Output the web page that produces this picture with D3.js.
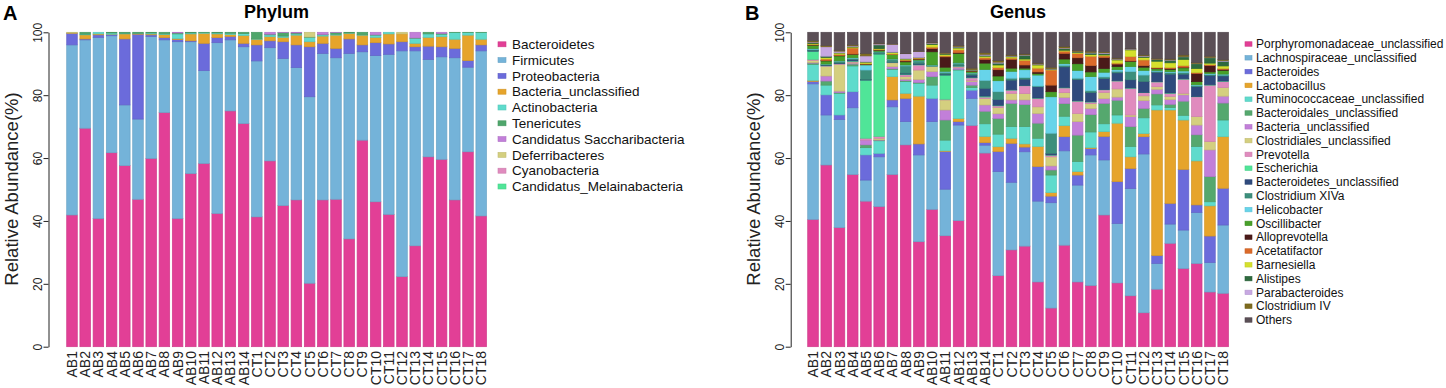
<!DOCTYPE html>
<html>
<head>
<meta charset="utf-8">
<script src="https://cdn.jsdelivr.net/npm/d3@7"></script>
<style>
  body { margin: 0; background: #fff; }
  svg { display: block; font-family: "Liberation Sans", Arial, sans-serif; }
</style>
</head>
<body>
<div id="graf"></div>
<script>
// Stacked relative abundance bars, phylum (A) and genus (B)

samples = ['AB1','AB2','AB3','AB4','AB5','AB6','AB7','AB8','AB9','AB10','AB11','AB12','AB13','AB14',
           'CT1','CT2','CT3','CT4','CT5','CT6','CT7','CT8','CT9','CT10','CT11','CT12','CT13','CT14',
           'CT15','CT16','CT17','CT18']
yTicks = [0, 20, 40, 60, 80, 100]

phyla = ['Bacteroidetes','Firmicutes','Proteobacteria','Bacteria_unclassified','Actinobacteria',
         'Tenericutes','Candidatus Saccharibacteria','Deferribacteres','Cyanobacteria',
         'Candidatus_Melainabacteria']
phylaColors = ['#e23f96','#74b3d9','#6b6bdb','#e6a42b','#5fdbcc','#4fa66b','#c27fd9','#d4cf7f',
               '#e08bbe','#50e598']

// one row per sample, values in the order of `phyla` (%)
phylumRows = [
  [41.9, 54.1, 3.7, 0.1, 0.0, 0.0, 0.0, 0.2, 0, 0],
  [69.5, 28.1, 0.3, 1.3, 0.2, 0.6, 0, 0, 0, 0],
  [40.8, 57.6, 0.8, 0.3, 0.5, 0, 0, 0, 0, 0],
  [61.7, 37.2, 0.4, 0.1, 0.4, 0.2, 0, 0, 0, 0],
  [57.6, 19.3, 21.0, 1.6, 0.2, 0.3, 0, 0, 0, 0],
  [46.9, 25.5, 27.0, 0.2, 0.1, 0.3, 0, 0, 0, 0],
  [59.9, 38.8, 0.5, 0.3, 0.3, 0.2, 0, 0, 0, 0],
  [74.5, 23.1, 0.7, 1.0, 0.2, 0.5, 0, 0, 0, 0],
  [40.8, 56.2, 0.7, 0.3, 1.5, 0.3, 0.2, 0, 0, 0],
  [55.1, 41.9, 0.3, 2.2, 0.3, 0.2, 0, 0, 0, 0],
  [58.3, 29.5, 8.7, 3.2, 0.2, 0.1, 0, 0, 0, 0],
  [42.4, 54.3, 1.6, 1.2, 0.3, 0.2, 0, 0, 0, 0],
  [75.0, 22.6, 1.1, 0.6, 0.4, 0.3, 0, 0, 0, 0],
  [71.0, 24.4, 1.1, 2.5, 0.6, 0.4, 0, 0, 0, 0],
  [41.3, 49.6, 5.1, 1.8, 0.1, 2.1, 0, 0, 0, 0],
  [59.1, 36.0, 2.2, 1.3, 0.6, 0.2, 0.6, 0, 0, 0],
  [44.9, 46.8, 5.3, 1.4, 0.4, 1.1, 0.1, 0, 0, 0],
  [46.7, 42.1, 7.2, 3.1, 0.4, 0.3, 0.2, 0, 0, 0],
  [20.2, 59.3, 15.9, 1.6, 1.4, 0.1, 0, 1.5, 0, 0],
  [46.7, 46.6, 3.2, 2.3, 0.4, 0.1, 0.7, 0, 0, 0],
  [46.9, 45.0, 3.0, 4.2, 0.3, 0.5, 0.1, 0, 0, 0],
  [34.3, 59.0, 4.6, 1.8, 0.1, 0.2, 0, 0, 0, 0],
  [65.7, 28.1, 2.2, 3.1, 0.1, 0.8, 0, 0, 0, 0],
  [46.1, 46.5, 4.1, 1.7, 0.7, 0.1, 0.8, 0, 0, 0],
  [42.1, 50.9, 3.3, 3.2, 0.5, 0, 0, 0, 0, 0],
  [22.3, 71.8, 2.9, 2.5, 0, 0, 0, 0.5, 0, 0],
  [32.1, 62.0, 1.3, 1.1, 1.6, 0.1, 1.8, 0, 0, 0],
  [60.4, 31.0, 4.2, 2.8, 1.1, 0.5, 0, 0, 0, 0],
  [59.6, 32.6, 3.2, 3.2, 0.8, 0.2, 0.4, 0, 0, 0],
  [46.7, 45.2, 3.0, 2.9, 2.1, 0.1, 0, 0, 0, 0],
  [62.0, 26.9, 2.1, 8.1, 0.8, 0.1, 0, 0, 0, 0],
  [41.6, 52.5, 1.9, 1.8, 2.1, 0.1, 0, 0, 0, 0]
]

genera = ['Porphyromonadaceae_unclassified','Lachnospiraceae_unclassified','Bacteroides','Lactobacillus',
          'Ruminococcaceae_unclassified','Bacteroidales_unclassified','Bacteria_unclassified',
          'Clostridiales_unclassified','Prevotella','Escherichia','Bacteroidetes_unclassified',
          'Clostridium XIVa','Helicobacter','Oscillibacter','Alloprevotella','Acetatifactor',
          'Barnesiella','Alistipes','Parabacteroides','Clostridium IV','Others']
generaColors = ['#e23f96','#74b3d9','#6b6bdb','#e6a42b','#5fdbcc','#55a86e','#c27fd9','#d4cf7f',
                '#e08bbe','#50e598','#2f4a7d','#3c8f7c','#67d4ea','#48a02a','#4a1a19','#db6a2a',
                '#d5e02c','#2e6a3e','#c7a8e2','#7d6a1e','#5b4f56']

// one row per sample, values in the order of `genera` (%)
genusRows = [
  [40.5, 43.1, 0.8, 0.3, 5.1, 0.4, 0.2, 0.7, 0.3, 2.6, 0.3, 0.3, 0.2, 1.1, 0.1, 0.2, 0.2, 0.3, 0.2, 0.4, 2.7],
  [57.8, 15.9, 6.4, 0, 3.1, 1.3, 1.6, 3.0, 0.2, 0.1, 0.2, 0.2, 0.1, 1.0, 0.1, 0.5, 0.5, 0.4, 3.0, 0.4, 4.2],
  [37.9, 34.4, 1.4, 0, 6.9, 0.2, 0.5, 8.5, 0.2, 0.1, 0.2, 0.5, 0.1, 1.6, 0.1, 0.4, 0.4, 0.1, 0.5, 0.3, 5.6],
  [54.8, 21.2, 5.1, 0, 8.2, 0.6, 0.3, 0.3, 0.2, 0.2, 0.4, 0.4, 0.2, 1.1, 0.1, 1.9, 0.3, 0.2, 0.2, 0.3, 4.0],
  [46.3, 6.7, 8.0, 0, 2.3, 0.9, 1.5, 0, 0.6, 18.5, 0.2, 3.0, 1.6, 0.2, 0.1, 0.1, 0.5, 0.1, 1.9, 0.8, 6.7],
  [44.6, 15.8, 1.1, 0, 4.0, 0.2, 0.1, 0.5, 0.6, 26.2, 0.1, 0.6, 0.1, 0.4, 0.1, 0.2, 0.2, 1.2, 0.3, 0.2, 3.5],
  [54.8, 21.5, 2.2, 7.4, 2.3, 0.2, 0.7, 1.2, 0.1, 0.1, 0.1, 0.8, 0.1, 1.4, 0.1, 0.1, 0.5, 0.1, 2.5, 0.1, 3.7],
  [64.2, 7.4, 7.4, 1.6, 3.7, 0.3, 0.5, 0.8, 0.6, 0.2, 0.3, 2.3, 0.3, 1.0, 0.3, 0.3, 0.3, 0.1, 1.6, 0.1, 6.7],
  [33.4, 27.6, 3.5, 15.2, 4.1, 0.2, 1.0, 3.0, 1.6, 0.2, 0.3, 0.8, 0.2, 0.3, 0.1, 0.3, 0.1, 0.1, 1.9, 0.1, 6.0],
  [43.7, 27.9, 7.4, 0, 4.2, 2.7, 1.6, 1.6, 0.1, 0.1, 0.1, 0.1, 0.1, 4.2, 1.0, 0.5, 0.8, 0.3, 0.2, 0.2, 3.2],
  [35.3, 14.8, 12.0, 0.2, 3.4, 6.4, 3.2, 3.2, 0.2, 7.7, 0.3, 0.6, 0.3, 1.3, 3.3, 0.3, 0.5, 0.2, 0.1, 0.2, 6.5],
  [40.1, 30.4, 1.1, 1.0, 15.4, 0.2, 0.5, 0.2, 0.3, 0.1, 0.1, 0.8, 0.1, 3.0, 0.2, 0.9, 0.6, 0.3, 0.2, 0.3, 4.2],
  [70.4, 8.6, 2.6, 0, 0.8, 0.8, 1.2, 0.3, 0.8, 0.2, 0.7, 0.6, 0.1, 0.5, 0.1, 0.1, 0.1, 0.1, 0.1, 0.5, 11.4],
  [61.6, 2.5, 0.8, 2.0, 4.0, 4.0, 2.0, 2.0, 0.5, 0.3, 2.5, 2.5, 3.5, 2.0, 1.2, 0.5, 0.5, 0.3, 0.3, 0.5, 6.5],
  [22.6, 33.1, 6.4, 1.5, 4.0, 5.0, 1.5, 2.0, 0.5, 0.2, 1.8, 2.5, 3.5, 1.5, 2.0, 0.7, 0.8, 0.6, 0.3, 0.5, 9.0],
  [30.8, 21.5, 12.4, 1.6, 3.7, 7.4, 1.1, 2.1, 1.0, 0.1, 3.1, 0.6, 2.2, 1.0, 2.8, 0.4, 0.4, 0.2, 0.1, 0.3, 7.2],
  [32.0, 30.0, 1.5, 1.0, 5.5, 7.0, 1.5, 2.0, 2.5, 0.1, 2.0, 0.5, 2.5, 0.5, 1.0, 1.5, 0.4, 1.2, 0.1, 0.3, 6.9],
  [20.6, 25.7, 11.0, 6.4, 2.6, 4.8, 3.1, 2.1, 2.7, 0.1, 3.6, 0.2, 3.5, 0.5, 0.5, 1.2, 1.0, 0.2, 0.1, 0.3, 9.8],
  [12.3, 33.5, 2.1, 1.1, 5.6, 1.6, 1.3, 2.9, 0.5, 0.1, 0.5, 6.4, 11.6, 1.6, 2.1, 4.8, 0.2, 0.1, 0.1, 0.5, 11.1],
  [32.3, 30.0, 4.5, 3.5, 3.0, 4.0, 2.0, 1.5, 1.5, 0.2, 6.5, 0.5, 0.5, 1.5, 1.8, 0.7, 0.3, 0.5, 0.2, 0.5, 4.5],
  [20.6, 30.8, 3.2, 1.1, 3.2, 8.4, 4.3, 2.6, 3.9, 0.1, 6.8, 0.4, 2.5, 2.1, 1.9, 1.4, 0.3, 0.2, 0.1, 0.3, 5.8],
  [19.5, 41.5, 2.0, 0.3, 5.0, 5.5, 2.0, 1.5, 0.5, 0.1, 3.0, 0.5, 4.5, 1.5, 2.0, 3.0, 0.5, 0.5, 0.2, 0.4, 6.0],
  [41.9, 17.5, 7.5, 1.5, 2.5, 6.5, 1.5, 2.0, 0.8, 0.1, 3.5, 0.5, 1.5, 1.2, 3.5, 0.5, 0.3, 0.5, 0.2, 0.3, 6.2],
  [20.3, 18.9, 13.3, 18.6, 2.6, 4.7, 1.0, 2.6, 2.5, 0.1, 2.5, 0.5, 0.5, 1.0, 0.8, 0.3, 1.0, 0.2, 0.1, 0.3, 8.2],
  [16.2, 34.1, 6.4, 3.7, 3.3, 6.3, 3.2, 0.5, 8.5, 0.1, 2.6, 2.6, 1.6, 1.6, 0.2, 1.4, 2.1, 0.2, 0.1, 0.1, 5.2],
  [10.8, 50.5, 5.5, 1.0, 5.0, 3.0, 2.5, 1.5, 1.0, 0.1, 3.5, 2.0, 1.5, 1.0, 0.5, 1.8, 0.8, 0.3, 0.2, 0.3, 7.2],
  [18.3, 8.2, 2.5, 46.3, 1.6, 3.5, 1.5, 0.8, 1.5, 0.1, 3.0, 0.3, 0.3, 0.5, 0.2, 0.2, 2.0, 0.5, 0.1, 0.3, 8.3],
  [32.9, 6.1, 6.6, 29.7, 0.8, 1.0, 1.5, 1.0, 1.0, 0.1, 6.0, 0.5, 0.3, 0.7, 0.3, 0.3, 1.5, 0.8, 0.1, 0.3, 8.5],
  [24.9, 12.2, 19.3, 15.7, 1.5, 4.5, 2.0, 0.5, 4.5, 0.1, 1.5, 0.5, 0.5, 1.0, 0.2, 0.5, 2.0, 0.8, 0.1, 0.5, 7.2],
  [26.5, 16.2, 2.4, 14.0, 4.6, 3.7, 3.1, 2.7, 6.3, 0.1, 3.1, 0.3, 0.3, 1.0, 2.6, 0.3, 1.3, 1.5, 0.1, 0.3, 9.6],
  [17.4, 9.4, 8.4, 9.6, 1.3, 8.0, 8.5, 2.7, 17.9, 0.1, 3.0, 0.3, 0.3, 0.5, 2.0, 0.3, 0.5, 1.7, 0.1, 0.4, 7.6],
  [17.0, 21.7, 11.7, 16.4, 5.3, 5.4, 2.2, 2.7, 2.0, 0.1, 1.6, 0.3, 0.3, 1.2, 0.3, 0.3, 0.8, 1.5, 0.2, 0.3, 8.7]
]

ancho_total = 1446
alto_total = 388

svg = d3.select('#graf').append('svg')
        .attr('width', ancho_total)
        .attr('height', alto_total)

// y scale shared by both panels
y = d3.scaleLinear().domain([0, 100]).range([346.7, 32.3])

function panel(p) {
  x = d3.scaleBand()
        .domain(samples)
        .range([p.x0, p.x1])
        .paddingInner(0.2)
        .paddingOuter(0.1)

  rows = samples.map((s, i) => {
    o = { sample: s }
    p.rows[i].forEach((v, j) => o[j] = v)
    return o
  })
  series = d3.stack().keys(d3.range(p.names.length))(rows)

  g = svg.append('g')

  g.selectAll('g.capa')
    .data(series)
    .join('g')
    .attr('class', 'capa')
    .attr('fill', d => p.colors[d.key])
    .attr('stroke', d => d3.color(p.colors[d.key]).darker(0.25))
    .attr('stroke-width', 0.7)
    .selectAll('rect')
    .data(d => d.filter(s => s[1] - s[0] > 0))
    .join('rect')
    .attr('x', d => x(d.data.sample))
    .attr('width', x.bandwidth())
    .attr('y', d => y(d[1]))
    .attr('height', d => y(d[0]) - y(d[1]))

  // y axis, R style (labels parallel to the axis)
  yAxis = g.append('g')
           .attr('transform', `translate(${p.axisX}, 0)`)
           .call(d3.axisLeft(y).tickValues(yTicks).tickSize(5).tickSizeOuter(0))
  yAxis.select('.domain').attr('stroke', '#222')
  yAxis.selectAll('.tick line').attr('stroke', '#222')
  yAxis.selectAll('.tick text')
       .attr('x', null).attr('dy', null)
       .attr('transform', 'translate(-7, 0) rotate(-90)')
       .attr('text-anchor', 'middle')
       .attr('font-size', 12)
       .attr('font-family', '"Liberation Sans", Arial, sans-serif')
       .attr('fill', '#222')

  g.append('text')
    .attr('transform', `translate(${p.axisX - 31}, 189) rotate(-90)`)
    .attr('text-anchor', 'middle')
    .attr('font-size', 18.5)
    .attr('fill', '#222')
    .text('Relative Abundance(%)')

  // sample labels under the bars
  g.selectAll('text.muestra')
    .data(samples)
    .join('text')
    .attr('class', 'muestra')
    .attr('transform', d => `translate(${x(d) + x.bandwidth() / 2}, 351) rotate(-90)`)
    .attr('dy', '0.36em')
    .attr('text-anchor', 'end')
    .attr('font-size', 14)
    .attr('fill', '#222')
    .text(d => d)

  // title and panel letter
  g.append('text')
    .attr('x', (p.x0 + p.x1) / 2)
    .attr('y', 18)
    .attr('text-anchor', 'middle')
    .attr('font-size', 18)
    .attr('font-weight', 'bold')
    .text(p.title)
  g.append('text')
    .attr('x', p.letterX)
    .attr('y', 20)
    .attr('font-size', 20)
    .attr('font-weight', 'bold')
    .text(p.letter)

  // legend
  ley = g.selectAll('g.ley')
         .data(p.names)
         .join('g')
         .attr('class', 'ley')
         .attr('transform', (d, i) => `translate(${p.legX}, ${p.legY + i * p.legStep})`)
  ley.append('rect')
     .attr('x', 0).attr('y', -p.sw[1] / 2)
     .attr('width', p.sw[0]).attr('height', p.sw[1])
     .attr('fill', (d, i) => p.colors[i])
     .attr('stroke', (d, i) => d3.color(p.colors[i]).darker(0.25))
     .attr('stroke-width', 0.6)
  ley.append('text')
     .attr('x', p.legText)
     .attr('dy', '0.35em')
     .attr('font-size', p.legFont)
     .attr('fill', '#111')
     .text(d => d)
}

panel({
  rows: phylumRows, names: phyla, colors: phylaColors,
  x0: 65.4, x1: 487.8, axisX: 48.5,
  title: 'Phylum', letter: 'A', letterX: 3,
  legX: 498, legY: 44.3, legStep: 15.8, legText: 14, legFont: 13.5, sw: [8, 5]
})

panel({
  rows: genusRows, names: genera, colors: generaColors,
  x0: 806.4, x1: 1229.8, axisX: 790.7,
  title: 'Genus', letter: 'B', letterX: 745,
  legX: 1245, legY: 44, legStep: 13.8, legText: 11, legFont: 12, sw: [7, 4.5]
})
</script>
</body>
</html>
